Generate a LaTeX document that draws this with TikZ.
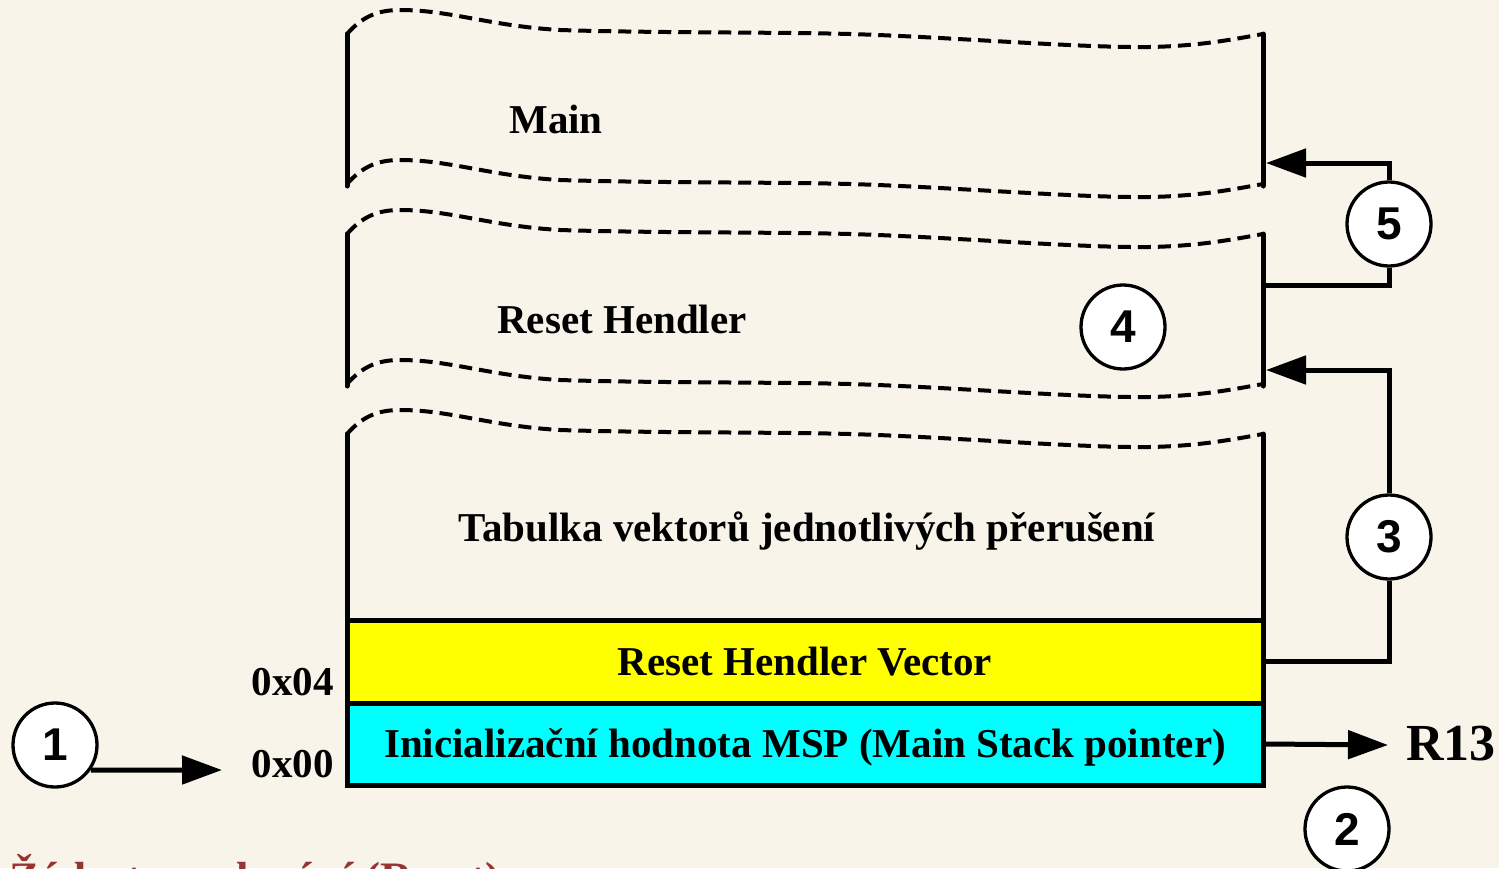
\documentclass[tikz,border=0pt]{standalone}
\usepackage{fontspec}
\setmainfont{Liberation Serif}
\newfontfamily\digitfont{Liberation Sans}
\usetikzlibrary{arrows.meta}
\definecolor{bgc}{RGB}{248,244,234}
\definecolor{titlered}{RGB}{150,52,50}
\definecolor{vecyellow}{RGB}{255,255,0}
\definecolor{mspcyan}{RGB}{0,255,255}
\begin{document}
\begin{tikzpicture}[x=1pt,y=-1pt,
  wall/.style={line width=5pt, line cap=round},
  dashline/.style={line width=4pt, dash pattern=on 13pt off 7pt},
  num/.style={circle, draw, line width=3.3pt, fill=white, minimum size=84pt, inner sep=0pt, font=\digitfont\bfseries\fontsize{46}{46}\selectfont},
  lbl/.style={font=\bfseries\fontsize{41}{41}\selectfont, inner sep=0pt, anchor=base},
  cell/.style={draw, line width=5pt, minimum width=916pt, inner sep=0pt, text height=27pt, text depth=0pt, font=\bfseries\fontsize{41}{41}\selectfont},
  conn/.style={line width=5pt},
  arr/.style={line width=5pt, -{Triangle[length=40pt,width=28pt]}},
]
\useasboundingbox (0,0) rectangle (1499,868);
\fill[bgc] (0,0) rectangle (1499,868);
\clip (0,0) rectangle (1499,868);

% wavy dashed section borders
\foreach \o in {0,150,200,350,400} {
  \draw[dashline, shift={(0,\o)}] (347,34) .. controls (362,17) and (377,10) .. (400,10)
    .. controls (450,10) and (490,26) .. (560,30)
    .. controls (650,33) and (780,32) .. (850,34)
    .. controls (950,37) and (1080,48) .. (1150,47)
    .. controls (1200,46) and (1235,39) .. (1263,34);
}

% walls
\draw[wall] (347,34) -- (347,186);
\draw[wall] (1263,34) -- (1263,186);
\draw[wall] (347,234) -- (347,386);
\draw[wall] (1263,234) -- (1263,386);
\draw[wall] (347,434) -- (347,620);
\draw[wall] (1263,434) -- (1263,620);

% section labels
\node[lbl] (main) at (556,133) {Main};
\node[lbl] (rh) at (622,333) {Reset Hendler};
\node[lbl] (tab) at (807,541) {Tabulka vektorů jednotlivých přerušení};

% cells
\node[cell, fill=vecyellow, minimum height=83pt] (yel) at (805,661.5) {Reset Hendler Vector};
\node[cell, fill=mspcyan, minimum height=82pt] (msp) at (805,744) {Inicializační hodnota MSP (Main Stack pointer)};

% address labels
\node[lbl, anchor=base east] (a04) at (334,695) {0x04};
\node[lbl, anchor=base east] (a00) at (334,777) {0x00};

% numbered circles
\node[num] (c1) at (55,745) {1};
\node[num] (c2) at (1347,829) {2};
\node[num] (c3) at (1389,537) {3};
\node[num] (c4) at (1123,327) {4};
\node[num] (c5) at (1389,224) {5};

% connector end points
\coordinate (t1) at (222,770);
\coordinate (t5) at (1266,163);
\coordinate (r5) at (1263,285);
\coordinate (t3) at (1266,370);
\coordinate (tr) at (1388,745);

% connectors
\draw[arr] (c1.-35) -- (t1);
\draw[arr] (c5.north) |- (t5);
\draw[conn] (c5.south) |- (r5);
\draw[conn] (yel.east) -| (c3.south);
\draw[arr] (c3.north) |- (t3);
\draw[arr] (msp.east) -- (tr);
\node[font=\bfseries\fontsize{52}{52}\selectfont, inner sep=0pt, anchor=base west] (r13) at (1406,760) {R13};

% cut-off title (the reference shows only its top)
\node[font=\bfseries\fontsize{45}{45}\selectfont, text=titlered, inner sep=0pt, anchor=base west] (title) at (9,893) {Žádost o nulování (Reset)};
\end{tikzpicture}
\end{document}
